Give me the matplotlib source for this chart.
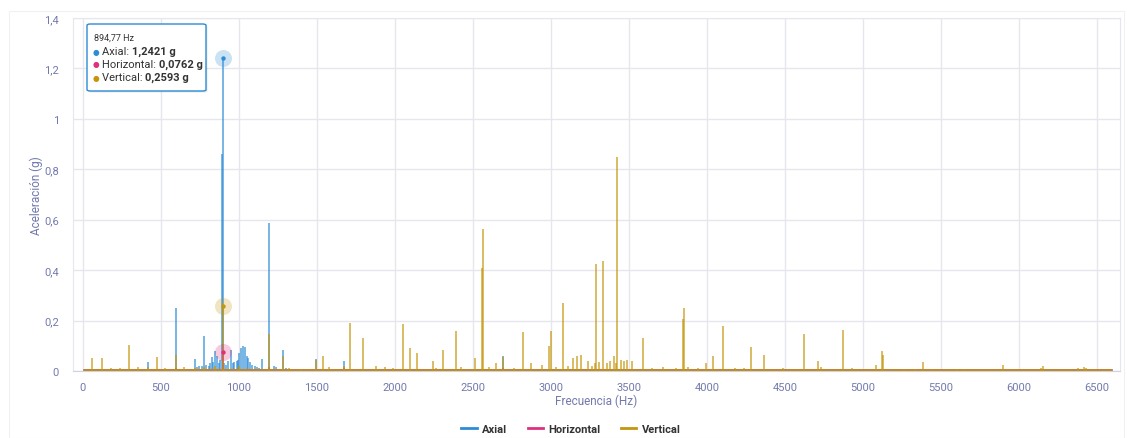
import matplotlib
matplotlib.use("Agg")
from matplotlib import pyplot as plt
from matplotlib.patches import FancyBboxPatch, Rectangle
from matplotlib.lines import Line2D

plt.rcParams['font.family'] = ['Roboto', 'DejaVu Sans']

# spectrum peaks (Hz, g)
axial_freq = [418, 598, 716, 730, 745, 760, 778, 790, 805, 815, 828, 835, 845, 860, 870, 880,
              889, 894.77, 905, 915, 930, 947, 960, 970, 985, 995, 1000, 1012, 1025, 1040,
              1050, 1060, 1070, 1085, 1100, 1115, 1130, 1148, 1195, 1225, 1240, 1281, 1300,
              1495, 1671, 2693]
axial_amp = [0.035, 0.249, 0.047, 0.015, 0.02, 0.018, 0.138, 0.025, 0.02, 0.03, 0.055, 0.035,
             0.08, 0.06, 0.03, 0.045, 0.86, 1.2421, 0.03, 0.025, 0.04, 0.085, 0.03, 0.035,
             0.04, 0.045, 0.07, 0.09, 0.10, 0.095, 0.06, 0.05, 0.035, 0.025, 0.02, 0.015,
             0.012, 0.049, 0.585, 0.02, 0.015, 0.085, 0.01, 0.048, 0.041, 0.06]

horizontal_freq = [90, 598, 894.77, 1195, 1671, 2693, 3300, 6590]
horizontal_amp = [0.008, 0.01, 0.0762, 0.015, 0.012, 0.01, 0.006, 0.006]

vertical_freq = [56, 120, 178, 236, 298, 352, 418, 476, 527, 598, 650, 716, 778, 845, 894.77,
                 1000, 1195, 1281, 1320, 1400, 1495, 1538, 1580, 1671, 1712, 1796, 1880, 1935,
                 1990, 2050, 2095, 2140, 2241, 2265, 2305, 2393, 2420, 2511, 2560, 2567, 2600,
                 2650, 2693, 2760, 2819, 2870, 2945, 2990, 2997, 3030, 3077, 3110, 3143, 3167,
                 3191, 3238, 3260, 3280, 3291, 3310, 3334, 3360, 3380, 3402, 3415, 3426, 3450,
                 3470, 3490, 3520, 3590, 3650, 3720, 3800, 3845, 3852, 3880, 3940, 3991, 4040,
                 4104, 4180, 4240, 4280, 4362, 4486, 4619, 4711, 4730, 4873, 4930, 5086, 5120,
                 5130, 5260, 5330, 5386, 5440, 5600, 5650, 5900, 6140, 6155, 6375, 6419, 6430]
vertical_amp = [0.052, 0.053, 0.01, 0.01, 0.105, 0.015, 0.015, 0.055, 0.012, 0.062, 0.015, 0.01,
                0.015, 0.02, 0.2593, 0.02, 0.148, 0.058, 0.01, 0.008, 0.045, 0.058, 0.015, 0.02,
                0.191, 0.131, 0.02, 0.017, 0.012, 0.185, 0.09, 0.072, 0.04, 0.012, 0.085, 0.16,
                0.015, 0.05, 0.41, 0.565, 0.015, 0.03, 0.055, 0.01, 0.155, 0.03, 0.025, 0.1,
                0.16, 0.015, 0.268, 0.02, 0.05, 0.06, 0.062, 0.04, 0.02, 0.03, 0.425, 0.035,
                0.435, 0.03, 0.04, 0.06, 0.03, 0.85, 0.045, 0.04, 0.045, 0.04, 0.129, 0.012,
                0.015, 0.012, 0.205, 0.251, 0.015, 0.012, 0.03, 0.06, 0.178, 0.01, 0.01, 0.095,
                0.063, 0.012, 0.145, 0.04, 0.015, 0.162, 0.01, 0.022, 0.08, 0.065, 0.006,
                0.006, 0.035, 0.006, 0.008, 0.006, 0.022, 0.01, 0.018, 0.01, 0.015, 0.01]

freq_range = [0, 6594]
sel_freq = 894.77
sel_axial, sel_horizontal, sel_vertical = 1.2421, 0.0762, 0.2593

c_axial = "#2c8cd6"
c_horizontal = "#e0307b"
c_vertical = "#c4960c"
lbl_col = "#7379ad"
grid_col = "#e6e6ee"

fig = plt.figure(figsize=(11.27, 4.39), dpi=100)
ax = fig.add_axes([73 / 1127, 1 - 372 / 439, (1120 - 73) / 1127, (372 - 19) / 439])

fig.patches.append(Rectangle((9 / 1127, 0), 1115 / 1127, 1 - 12 / 439, transform=fig.transFigure,
                             fill=False, edgecolor="#f1f1f3", lw=0.8))

series = [(axial_freq, axial_amp, c_axial),
          (horizontal_freq, horizontal_amp, c_horizontal),
          (vertical_freq, vertical_amp, c_vertical)]
for fr, amp, col in series:
    ax.hlines(0.002, freq_range[0], freq_range[1], color=col, lw=2, alpha=0.85, clip_on=False)
    ax.vlines(fr, 0, amp, color=col, lw=1.2, alpha=0.75)

# hovered point markers
for val, col in [(sel_axial, c_axial), (sel_vertical, c_vertical), (sel_horizontal, c_horizontal)]:
    ax.scatter([sel_freq], [val], s=150, color=col, alpha=0.25, lw=0, zorder=5)
    ax.scatter([sel_freq], [val], s=10, color=col, lw=0, zorder=6)

ax.set_xlim(-64, 6647)
ax.set_ylim(0, 1.4)
ax.set_xticks(range(0, 7000, 500))
ax.set_yticks([0, 0.2, 0.4, 0.6, 0.8, 1.0, 1.2, 1.4])
ax.set_yticklabels(["0", "0,2", "0,4", "0,6", "0,8", "1", "1,2", "1,4"])
ax.tick_params(length=0, labelsize=8, labelcolor=lbl_col)
ax.tick_params(axis="x", pad=8)
ax.tick_params(axis="y", pad=10)
ax.grid(True, color=grid_col, lw=1)
ax.set_axisbelow(True)
for s in ax.spines.values():
    s.set_color(grid_col)
ax.spines["bottom"].set_color("#ccd3e6")
ax.set_xlabel("Frecuencia (Hz)", color=lbl_col, fontsize=8.5, labelpad=1)
ax.set_ylabel("Aceleración (g)", color=lbl_col, fontsize=8.5, labelpad=1)

# tooltip, drawn in the axes so it sits above the series
ft = fig.transFigure
shadow = FancyBboxPatch((88.5 / 1127, 1 - 93.5 / 439), 119 / 1127, 67 / 439, transform=ft,
                        boxstyle="round,pad=0,rounding_size=0.003", facecolor="#00000018",
                        edgecolor="none", zorder=20, clip_on=False)
box = FancyBboxPatch((87 / 1127, 1 - 92 / 439), 119 / 1127, 67 / 439, transform=ft,
                     boxstyle="round,pad=0,rounding_size=0.003", facecolor="white",
                     edgecolor=c_axial, lw=1, zorder=21, clip_on=False)
ax.add_patch(shadow)
ax.add_patch(box)
ax.text(94 / 1127, 1 - 38 / 439, "894,77 Hz", transform=ft, fontsize=6.5, color="#333333",
        va="center", zorder=22)
rows = [("Axial", "1,2421 g", c_axial, 52),
        ("Horizontal", "0,0762 g", c_horizontal, 65),
        ("Vertical", "0,2593 g", c_vertical, 78)]
for name, val, col, ypx in rows:
    ax.text(93 / 1127, 1 - ypx / 439, "●", transform=ft, fontsize=5.5, color=col, va="center",
            zorder=22, family="DejaVu Sans")
    t = ax.text(102 / 1127, 1 - ypx / 439, name + ": ", transform=ft, fontsize=8,
                color="#333333", va="center", zorder=22)
    ax.annotate(val, xy=(1, 0), xycoords=t, va="bottom", ha="left", fontsize=8,
                fontweight="bold", color="#333333", zorder=22, annotation_clip=False)

handles = [Line2D([], [], color=c, lw=2) for c in (c_axial, c_horizontal, c_vertical)]
leg = fig.legend(handles, ["Axial", "Horizontal", "Vertical"], loc="center",
                 bbox_to_anchor=(571 / 1127, 1 - 430 / 439), ncol=3, frameon=False,
                 handlelength=1.4, columnspacing=1.8, handletextpad=0.5,
                 prop={"weight": "bold", "size": 8})
for txt in leg.get_texts():
    txt.set_color("#333333")

plt.savefig("out.png", dpi=100)
